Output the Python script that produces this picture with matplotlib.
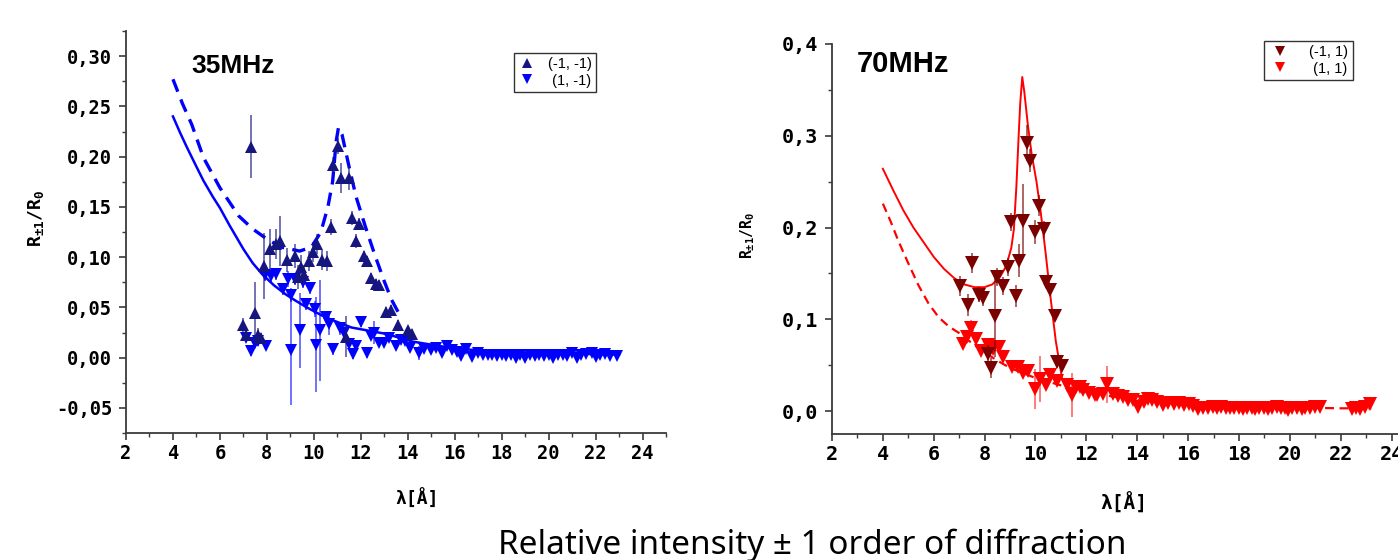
import matplotlib
matplotlib.use('Agg')
import matplotlib.pyplot as plt
from matplotlib.lines import Line2D
from matplotlib.ticker import MultipleLocator, FuncFormatter

plt.rcParams['font.family'] = 'DejaVu Sans Mono'
plt.rcParams['font.weight'] = 'bold'
plt.rcParams['mathtext.default'] = 'regular'

# ---- 35 MHz data ----
# (-1, -1) order
x_a = [7.0, 7.13, 7.34, 7.48, 7.62, 7.75, 7.86, 8.12, 8.40, 8.57,
       8.87, 9.18, 9.32, 9.46, 9.60, 9.80, 9.98, 10.12, 10.35, 10.55,
       10.73, 10.81, 11.02, 11.16, 11.37, 11.51, 11.61, 11.80, 11.94, 12.15,
       12.25, 12.43, 12.65, 12.77, 13.07, 13.28, 13.57, 13.99, 14.20]
y_a = [0.032, 0.023, 0.210, 0.044, 0.023, 0.020, 0.091, 0.108, 0.113, 0.116,
       0.097, 0.101, 0.080, 0.090, 0.082, 0.096, 0.105, 0.113, 0.097, 0.096,
       0.130, 0.192, 0.211, 0.179, 0.021, 0.179, 0.139, 0.116, 0.133, 0.101,
       0.096, 0.079, 0.073, 0.072, 0.045, 0.047, 0.032, 0.027, 0.024]
e_a = [0.007, 0.005, 0.031, 0.031, 0.006, 0.005, 0.033, 0.02, 0.015, 0.025,
       0.012, 0.012, 0.012, 0.012, 0.01, 0.01, 0.01, 0.01, 0.01, 0.01,
       0.008, 0.008, 0.008, 0.015, 0.02, 0.012, 0.007, 0.007, 0.006, 0.005,
       0.005, 0.005, 0.005, 0.005, 0.005, 0.005, 0.005, 0.004, 0.004]

# (1, -1) order
x_b = [7.13, 7.34, 7.50, 7.62, 7.90, 7.97, 8.19, 8.40, 8.68, 8.90,
       9.04, 9.04, 9.18, 9.39, 9.53, 9.67, 9.82, 10.03, 10.08, 10.27,
       10.52, 10.66, 10.81, 11.10, 11.30, 11.51, 11.65, 11.80, 12.00, 12.25,
       12.45, 12.57, 12.79, 13.00, 13.20, 13.50, 13.70, 13.90, 14.10, 14.46,
       14.70, 14.98, 15.20, 15.48, 15.68, 15.90, 16.10, 16.26, 16.47, 16.74,
       17.00, 17.20, 17.40, 17.60, 17.80, 18.00, 18.20, 18.40, 18.60, 18.80,
       19.00, 19.20, 19.40, 19.60, 19.80, 20.00, 20.20, 20.40, 20.60, 20.80,
       21.00, 21.20, 21.40, 21.60, 21.85, 22.00, 22.20, 22.40, 22.60, 22.90]
y_b = [0.020, 0.007, 0.015, 0.017, 0.082, 0.012, 0.081, 0.083, 0.068, 0.078,
       0.062, 0.008, 0.078, 0.027, 0.075, 0.053, 0.069, 0.048, 0.013, 0.027,
       0.040, 0.033, 0.009, 0.029, 0.025, 0.014, 0.004, 0.012, 0.035, 0.005,
       0.022, 0.025, 0.015, 0.015, 0.020, 0.012, 0.018, 0.017, 0.010, 0.005,
       0.009, 0.008, 0.010, 0.005, 0.012, 0.008, 0.006, 0.002, 0.009, 0.001,
       0.005, 0.003, 0.003, 0.003, 0.002, 0.003, 0.002, 0.003, 0.000, 0.003,
       0.000, 0.003, 0.002, 0.003, 0.002, 0.003, 0.000, 0.003, 0.003, 0.002,
       0.005, 0.000, 0.003, 0.004, 0.005, 0.001, 0.003, 0.004, 0.002, 0.002]
e_b = [0.004, 0.005, 0.004, 0.005, 0.006, 0.004, 0.006, 0.006, 0.006, 0.008,
       0.007, 0.055, 0.006, 0.037, 0.006, 0.006, 0.006, 0.008, 0.047, 0.05,
       0.006, 0.010, 0.006, 0.006, 0.006, 0.006, 0.005, 0.005, 0.005, 0.005,
       0.004, 0.011, 0.004, 0.004, 0.004, 0.004, 0.004, 0.004, 0.004, 0.007,
       0.003, 0.003, 0.004, 0.003, 0.003, 0.003, 0.003, 0.003, 0.003, 0.002,
       0.002, 0.002, 0.002, 0.002, 0.002, 0.002, 0.002, 0.002, 0.002, 0.002,
       0.002, 0.002, 0.002, 0.002, 0.002, 0.002, 0.002, 0.002, 0.002, 0.002,
       0.002, 0.002, 0.002, 0.002, 0.002, 0.002, 0.002, 0.002, 0.002, 0.002]

# fitted curves
x_fit_b = [4.0, 4.3, 4.6, 5.0, 5.3, 5.7, 6.0, 6.4, 6.7, 7.0,
           7.4, 7.8, 8.3, 8.8, 9.2, 9.7, 10.5, 11.6, 13.1, 14.2,
           15.5, 17.0, 19.0, 21.0, 23.0]
y_fit_b = [0.240, 0.224, 0.209, 0.190, 0.176, 0.160, 0.149, 0.132, 0.120, 0.108,
           0.094, 0.083, 0.072, 0.063, 0.057, 0.050, 0.040, 0.030, 0.0235, 0.016,
           0.011, 0.007, 0.005, 0.004, 0.003]
x_fit_a = [4.0, 4.4, 4.8, 5.3, 6.0, 6.8, 7.4, 8.0, 8.6, 9.4,
           9.9, 10.3, 10.6, 10.8, 10.95, 11.05, 11.2, 11.5, 11.8, 12.2,
           12.6, 13.0, 13.3, 13.6]
y_fit_a = [0.277, 0.253, 0.232, 0.199, 0.169, 0.141, 0.128, 0.118, 0.110, 0.106,
           0.110, 0.125, 0.150, 0.175, 0.215, 0.229, 0.222, 0.190, 0.160, 0.130,
           0.102, 0.076, 0.058, 0.045]

# ---- 70 MHz data ----
# (-1, 1) order
x_c = [7.02, 7.35, 7.51, 7.78, 7.94, 8.14, 8.27, 8.40, 8.47, 8.73,
       8.90, 9.02, 9.23, 9.34, 9.49, 9.65, 9.80, 9.97, 10.12, 10.33,
       10.43, 10.56, 10.76, 10.85, 11.05]
y_c = [0.136, 0.116, 0.161, 0.127, 0.123, 0.062, 0.047, 0.104, 0.146, 0.136,
       0.157, 0.206, 0.125, 0.164, 0.207, 0.292, 0.273, 0.195, 0.224, 0.198,
       0.141, 0.132, 0.104, 0.053, 0.049]
e_c = [0.011, 0.012, 0.011, 0.008, 0.008, 0.010, 0.011, 0.045, 0.010, 0.010,
       0.010, 0.010, 0.012, 0.018, 0.040, 0.020, 0.013, 0.013, 0.011, 0.009,
       0.006, 0.006, 0.006, 0.006, 0.005]

# (1, 1) order
x_d = [7.15, 7.29, 7.48, 7.68, 7.84, 8.14, 8.33, 8.56, 8.73, 9.06,
       9.32, 9.51, 9.71, 9.97, 10.17, 10.43, 10.56, 10.85, 11.22, 11.42,
       11.61, 11.74, 11.88, 12.10, 12.33, 12.40, 12.66, 12.80, 13.05, 13.25,
       13.45, 13.65, 13.85, 14.04, 14.25, 14.43, 14.60, 14.76, 15.00, 15.20,
       15.45, 15.65, 15.85, 16.05, 16.20, 16.40, 16.60, 16.80, 16.99, 17.15,
       17.30, 17.50, 17.65, 17.80, 18.00, 18.15, 18.30, 18.50, 18.65, 18.80,
       19.00, 19.15, 19.30, 19.50, 19.65, 19.80, 19.94, 20.10, 20.30, 20.46,
       20.60, 20.80, 21.00, 21.19, 22.43, 22.60, 22.76, 22.95, 23.15]
y_d = [0.073, 0.081, 0.091, 0.079, 0.065, 0.072, 0.068, 0.070, 0.059, 0.048,
       0.048, 0.041, 0.044, 0.024, 0.035, 0.028, 0.039, 0.033, 0.028, 0.017,
       0.026, 0.026, 0.023, 0.020, 0.017, 0.018, 0.019, 0.029, 0.019, 0.016,
       0.015, 0.012, 0.012, 0.004, 0.010, 0.0135, 0.012, 0.010, 0.007, 0.0085,
       0.008, 0.0085, 0.007, 0.008, 0.006, 0.0026, 0.003, 0.003, 0.0044, 0.003,
       0.004, 0.003, 0.0035, 0.003, 0.003, 0.0025, 0.003, 0.003, 0.0025, 0.003,
       0.003, 0.0025, 0.003, 0.004, 0.0035, 0.003, 0.001, 0.003, 0.0035, 0.0025,
       0.003, 0.0035, 0.004, 0.0044, 0.0026, 0.003, 0.0026, 0.004, 0.008]
e_d = [0.005, 0.005, 0.008, 0.005, 0.005, 0.005, 0.005, 0.005, 0.005, 0.005,
       0.005, 0.005, 0.005, 0.022, 0.025, 0.005, 0.005, 0.005, 0.004, 0.024,
       0.004, 0.004, 0.004, 0.003, 0.003, 0.003, 0.003, 0.020, 0.003, 0.003,
       0.003, 0.003, 0.003, 0.003, 0.003, 0.003, 0.003, 0.003, 0.003, 0.003,
       0.002, 0.002, 0.002, 0.002, 0.002, 0.002, 0.002, 0.002, 0.002, 0.002,
       0.002, 0.002, 0.002, 0.002, 0.002, 0.002, 0.002, 0.002, 0.002, 0.002,
       0.002, 0.002, 0.002, 0.002, 0.002, 0.002, 0.002, 0.002, 0.002, 0.002,
       0.002, 0.002, 0.002, 0.002, 0.002, 0.002, 0.002, 0.002, 0.002]

x_fit_c = [4.0, 4.4, 4.8, 5.2, 5.6, 6.0, 6.4, 6.8, 7.2, 7.6,
           8.0, 8.3, 8.6, 8.85, 9.05, 9.15, 9.25, 9.33, 9.40, 9.48,
           9.56, 9.70, 9.85, 10.04, 10.2, 10.4, 10.6, 10.8, 11.05]
y_fit_c = [0.264, 0.241, 0.219, 0.200, 0.184, 0.168, 0.155, 0.145, 0.138, 0.135,
           0.135, 0.138, 0.146, 0.158, 0.178, 0.198, 0.245, 0.295, 0.335, 0.364,
           0.348, 0.312, 0.280, 0.250, 0.218, 0.172, 0.122, 0.076, 0.035]
x_fit_d = [4.0, 4.3, 4.6, 5.0, 5.4, 5.8, 6.2, 6.6, 7.0, 7.5,
           8.0, 8.5, 9.0, 10.0, 11.0, 12.0, 13.0, 14.0, 16.0, 18.0,
           20.0, 22.0, 23.2]
y_fit_d = [0.226, 0.207, 0.186, 0.161, 0.137, 0.117, 0.102, 0.092, 0.085, 0.074,
           0.064, 0.055, 0.047, 0.036, 0.028, 0.021, 0.016, 0.012, 0.007, 0.005,
           0.004, 0.003, 0.003]

navy = '#16167f'
blue = '#0000ff'
dred = '#7b0000'
red = '#ff0000'
axcol = '#3a3a3a'

W, H = 1398, 560
fig = plt.figure(figsize=(W / 100, H / 100), dpi=100)


def box(x0, y0, x1, y1):
    return [x0 / W, 1 - y1 / H, (x1 - x0) / W, (y1 - y0) / H]


ax1 = fig.add_axes(box(126, 31, 666, 433))
ax2 = fig.add_axes(box(832, 44, 1417, 434))


def comma(ndec):
    def f(v, pos):
        if abs(v) < 1e-9:
            v = 0.0
        return f'{v:.{ndec}f}'.replace('.', ',')
    return FuncFormatter(f)


def style(ax, ymaj, ymin, ndec, size):
    for s in ('top', 'right'):
        ax.spines[s].set_visible(False)
    for s in ('left', 'bottom'):
        ax.spines[s].set_color(axcol)
        ax.spines[s].set_linewidth(1.3)
    ax.xaxis.set_major_locator(MultipleLocator(2))
    ax.xaxis.set_minor_locator(MultipleLocator(1))
    ax.yaxis.set_major_locator(MultipleLocator(ymaj))
    ax.yaxis.set_minor_locator(MultipleLocator(ymin))
    ax.yaxis.set_major_formatter(comma(ndec))
    ax.tick_params(which='major', direction='out', length=5, width=1.2,
                   color=axcol, labelsize=size, pad=3)
    ax.tick_params(which='minor', direction='out', length=3, width=1.0,
                   color=axcol)
    ax.tick_params(axis='y', which='major', pad=5)


# left panel
ax1.errorbar(x_b, y_b, yerr=e_b, fmt='v', color=blue, ms=9, mew=0,
             ecolor=(0, 0, 1, 0.65), elinewidth=1.2, capsize=3.5, capthick=1.2, zorder=3)
ax1.errorbar(x_a, y_a, yerr=e_a, fmt='^', color=navy, ms=9, mew=0,
             ecolor=(0.09, 0.09, 0.5, 0.7), elinewidth=1.2, capsize=3.5, capthick=1.2, zorder=4)
ax1.plot(x_fit_b, y_fit_b, color=blue, lw=1.8, zorder=2)
ax1.plot(x_fit_a, y_fit_a, color=blue, lw=2.4, ls=(0, (4, 2.5)), zorder=2)
ax1.set_xlim(2, 25)
ax1.set_ylim(-0.075, 0.325)
style(ax1, 0.05, 0.025, 2, 13.5)

# right panel
ax2.plot(x_fit_d, y_fit_d, color=red, lw=1.6, ls=(0, (4, 2.5)), zorder=2)
ax2.plot(x_fit_c, y_fit_c, color=red, lw=1.4, zorder=2)
ax2.errorbar(x_d, y_d, yerr=e_d, fmt='v', color=red, ms=9.5, mew=0,
             ecolor=(1, 0, 0, 0.6), elinewidth=1.2, capsize=3.5, capthick=1.2, zorder=3)
ax2.errorbar(x_c, y_c, yerr=e_c, fmt='v', color=dred, ms=9.5, mew=0,
             ecolor=(0.48, 0, 0, 0.7), elinewidth=1.2, capsize=3.5, capthick=1.2, zorder=4)
ax2.set_xlim(2, 25)
ax2.set_ylim(-0.025, 0.4)
style(ax2, 0.1, 0.05, 1, 14.5)

# labels
ylab = 'R$_{\\mathregular{±1}}$/R$_{\\mathregular{0}}$'
fig.text(36 / W, 1 - 218 / H, ylab, rotation=90, ha='center', va='center',
         fontsize=13, fontweight='bold')
fig.text(748 / W, 1 - 235 / H, ylab, rotation=90, ha='center', va='center',
         fontsize=10.5, fontweight='bold')
fig.text(417 / W, 1 - 499 / H, 'λ[Å]', ha='center', va='center',
         fontsize=13, fontweight='bold')
fig.text(1124 / W, 1 - 503 / H, 'λ[Å]', ha='center', va='center',
         fontsize=14, fontweight='bold')

fig.text(191 / W, 1 - 73 / H, '35MHz', family='Liberation Sans', weight='bold',
         fontsize=19, va='baseline')
fig.text(857 / W, 1 - 72 / H, '70MHz', family='Liberation Sans', weight='bold',
         fontsize=21, va='baseline')

fig.text(812 / W, 1 - 554 / H, 'Relative intensity ± 1 order of diffraction',
         family='Noto Sans', weight='normal', fontsize=24, ha='center', va='baseline')

# legends
lp = {'family': 'Liberation Sans', 'weight': 'normal', 'size': 10.5}
h1 = [Line2D([], [], ls='none', marker='^', color=navy, ms=7.5, mew=0),
      Line2D([], [], ls='none', marker='v', color=blue, ms=7.5, mew=0)]
leg1 = ax1.legend(h1, ['(-1, -1)', ' (1, -1)'], loc='upper left',
                  bbox_to_anchor=(514 / W, 1 - 53 / H), bbox_transform=fig.transFigure,
                  fancybox=False, edgecolor='#333333', framealpha=1, borderaxespad=0,
                  prop=lp, handlelength=1.2, handletextpad=0.8, borderpad=0.3,
                  labelspacing=0.15)
leg1.get_frame().set_linewidth(1)
h2 = [Line2D([], [], ls='none', marker='v', color=dred, ms=7.5, mew=0),
      Line2D([], [], ls='none', marker='v', color=red, ms=7.5, mew=0)]
leg2 = ax2.legend(h2, ['(-1, 1)', ' (1, 1)'], loc='upper left',
                  bbox_to_anchor=(1264 / W, 1 - 41 / H), bbox_transform=fig.transFigure,
                  fancybox=False, edgecolor='#333333', framealpha=1, borderaxespad=0,
                  prop=lp, handlelength=1.6, handletextpad=1.2, borderpad=0.3,
                  labelspacing=0.15)
leg2.get_frame().set_linewidth(1)

fig.savefig('out.png', dpi=100)
